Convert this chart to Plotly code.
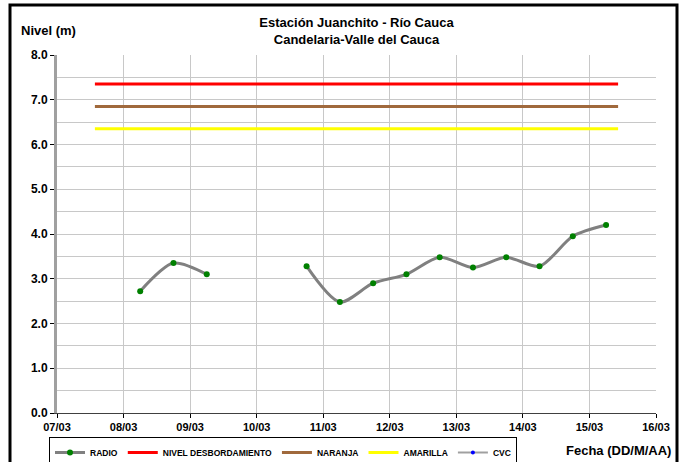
import plotly.graph_objects as go

# Data
radio_time = ["2011-03-08 06:00", "2011-03-08 18:00", "2011-03-09 06:00", "2011-03-09 18:00",
              "2011-03-10 06:00", "2011-03-10 18:00", "2011-03-11 06:00", "2011-03-11 18:00",
              "2011-03-12 06:00", "2011-03-12 18:00", "2011-03-13 06:00", "2011-03-13 18:00",
              "2011-03-14 06:00", "2011-03-14 18:00", "2011-03-15 06:00"]
radio_level = [2.72, 3.35, 3.10, None, None, 3.28, 2.48, 2.90, 3.10, 3.48, 3.25, 3.48, 3.28, 3.95, 4.20]

ref_time = ["2011-03-07 13:40", "2011-03-15 10:20"]
desborde = [7.35, 7.35]
naranja = [6.85, 6.85]
amarilla = [6.35, 6.35]

x_range = ["2011-03-07", "2011-03-16"]
y_range = [0, 8]

FONT = "Liberation Sans, Arial, sans-serif"
W, H = 684, 462

fig = go.Figure()
fig.add_trace(go.Scatter(x=radio_time, y=radio_level, name="RADIO", mode="lines+markers",
                         line=dict(color="#808080", width=3, shape="spline", smoothing=0.8),
                         marker=dict(color="#008000", size=6), connectgaps=False))
fig.add_trace(go.Scatter(x=ref_time, y=desborde, name="NIVEL DESBORDAMIENTO", mode="lines",
                         line=dict(color="#ff0000", width=3)))
fig.add_trace(go.Scatter(x=ref_time, y=naranja, name="NARANJA", mode="lines",
                         line=dict(color="#a0693c", width=3)))
fig.add_trace(go.Scatter(x=ref_time, y=amarilla, name="AMARILLA", mode="lines",
                         line=dict(color="#ffff00", width=3)))
fig.add_trace(go.Scatter(x=[None], y=[None], name="CVC", mode="lines+markers",
                         line=dict(color="#a0a0a0", width=2),
                         marker=dict(color="#0000ff", size=4)))

fig.update_layout(
    width=W, height=H,
    margin=dict(l=57, r=28, t=55, b=49, autoexpand=False),
    paper_bgcolor="white", plot_bgcolor="white",
    font=dict(family=FONT, color="black", size=11),
    title=dict(text="Estación Juanchito - Río Cauca<br>Candelaria-Valle del Cauca",
               x=(57 + 656) / 2 / W, xanchor="center", yref="container",
               y=1 - 27 / H, yanchor="middle",
               font=dict(size=13, weight="bold", family=FONT)),
    showlegend=True,
    legend=dict(orientation="h", xref="container", yref="container",
                x=49 / W, xanchor="left", y=1 - 437 / H, yanchor="top",
                bordercolor="black", borderwidth=1, bgcolor="white",
                font=dict(size=8.5, weight="bold", family=FONT),
                itemwidth=30, tracegroupgap=0),
)

fig.update_xaxes(type="date", range=x_range, dtick=86400000, tick0="2011-03-07",
                 tickformat="%d/%m", showgrid=True, gridcolor="#c8c8c8", gridwidth=1,
                 showline=True, linecolor="#404040", linewidth=1,
                 ticks="outside", ticklen=4, tickcolor="black", automargin=False,
                 tickfont=dict(size=11, weight="bold", family=FONT), zeroline=False)
fig.update_yaxes(range=y_range, dtick=1, tick0=0, tickformat=".1f",
                 showgrid=True, gridcolor="#c8c8c8", gridwidth=1,
                 minor=dict(dtick=0.5, showgrid=True, gridcolor="#c8c8c8", gridwidth=1),
                 showline=True, linecolor="#a0a0a0", linewidth=3,
                 ticks="outside", ticklen=4, tickcolor="black", automargin=False,
                 tickfont=dict(size=12, weight="bold", family=FONT), zeroline=False)

# Outer frame
fig.add_shape(type="rect", xref="paper", yref="paper",
              x0=(10 - 57) / 599, x1=(677 - 57) / 599,
              y0=(413 - 466) / 358, y1=(413 - 5) / 358,
              line=dict(color="black", width=3), fillcolor="rgba(0,0,0,0)", layer="above")

fig.add_annotation(text="Nivel (m)", xref="paper", yref="paper",
                   x=(48 - 57) / 599, y=(413 - 30) / 358, xanchor="center", yanchor="middle",
                   showarrow=False, font=dict(size=13, weight="bold", family=FONT))
fig.add_annotation(text="Fecha (DD/M/AA)", xref="paper", yref="paper",
                   x=(673 - 57) / 599, y=(413 - 450) / 358, xanchor="right", yanchor="middle",
                   showarrow=False, font=dict(size=13, weight="bold", family=FONT))

fig.write_html("out.html", config={"displayModeBar": False},
               post_script="document.body.style.margin='0';document.body.style.overflow='hidden';")
